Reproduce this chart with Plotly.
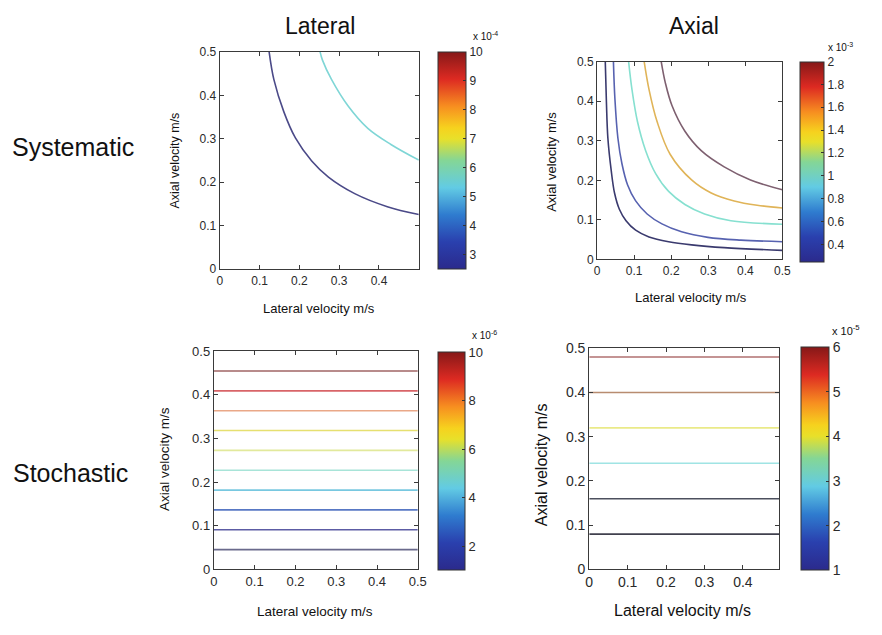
import plotly.graph_objects as go

W, H = 882, 635
FONT = "Arial, 'Liberation Sans', sans-serif"
INK = "#2a2a2a"

# ---------------- data ----------------
lateral_span = [0.0, 0.5]          # lateral velocity grid extent, m/s

# Systematic error, lateral component: iso-lines (values x1e-4)
sys_lat_levels = [2.5, 5.0]
sys_lat_x = [
    [0.124, 0.136, 0.161, 0.190, 0.231, 0.273, 0.339, 0.421, 0.500],
    [0.252, 0.258, 0.281, 0.322, 0.372, 0.430, 0.500],
]
sys_lat_y = [
    [0.500, 0.436, 0.362, 0.302, 0.249, 0.212, 0.174, 0.144, 0.126],
    [0.500, 0.481, 0.436, 0.376, 0.324, 0.287, 0.251],
]
sys_lat_clim = [2.5, 10.0]
sys_lat_cticks = [3, 4, 5, 6, 7, 8, 9, 10]

# Systematic error, axial component: iso-lines (values x1e-3)
sys_ax_levels = [0.25, 0.5, 1.0, 1.5, 2.0]
sys_ax_x = [
    [0.022, 0.025, 0.029, 0.038, 0.047, 0.060, 0.078, 0.104, 0.140,
     0.193, 0.255, 0.343, 0.500],
    [0.044, 0.048, 0.056, 0.067, 0.082, 0.104, 0.135, 0.175, 0.228,
     0.299, 0.388, 0.500],
    [0.085, 0.094, 0.109, 0.131, 0.158, 0.193, 0.237, 0.290, 0.361, 0.500],
    [0.127, 0.140, 0.162, 0.197, 0.255, 0.308, 0.370, 0.432, 0.500],
    [0.173, 0.184, 0.202, 0.237, 0.281, 0.343, 0.414, 0.500],
]
sys_ax_y = [
    [0.500, 0.400, 0.307, 0.225, 0.168, 0.127, 0.098, 0.074, 0.057,
     0.045, 0.037, 0.030, 0.023],
    [0.500, 0.406, 0.307, 0.242, 0.189, 0.148, 0.115, 0.090, 0.070,
     0.056, 0.049, 0.045],
    [0.500, 0.430, 0.348, 0.275, 0.217, 0.172, 0.139, 0.115, 0.098, 0.089],
    [0.500, 0.430, 0.348, 0.266, 0.201, 0.168, 0.148, 0.137, 0.130],
    [0.500, 0.447, 0.389, 0.324, 0.275, 0.234, 0.201, 0.176],
]
sys_ax_clim = [0.25, 2.0]
sys_ax_cticks = [0.4, 0.6, 0.8, 1.0, 1.2, 1.4, 1.6, 1.8, 2.0]
sys_ax_ctext = ["0.4", "0.6", "0.8", "1", "1.2", "1.4", "1.6", "1.8", "2"]

# Stochastic error, lateral component: level (x1e-6) and axial velocity of each iso-line
sto_lat_levels = [1, 2, 3, 4, 5, 6, 7, 8, 9, 10]
sto_lat_axial = [0.0455, 0.0909, 0.1364, 0.1818, 0.2273, 0.2727, 0.3182, 0.3636, 0.4091, 0.4545]
sto_lat_clim = [1, 10]
sto_lat_cticks = [2, 4, 6, 8, 10]

# Stochastic error, axial component: level (x1e-5) and axial velocity of each iso-line
sto_ax_levels = [1, 2, 3, 4, 5, 6]
sto_ax_axial = [0.08, 0.16, 0.24, 0.32, 0.40, 0.48]
sto_ax_span = [0.0, 0.495]
sto_ax_clim = [1, 6]
sto_ax_cticks = [1, 2, 3, 4, 5, 6]

# ---------------- styling ----------------
jet = [
    [0.000, "#2b2a8c"], [0.125, "#2a40ae"], [0.250, "#2f7ccf"],
    [0.375, "#62cbe4"], [0.500, "#84d696"], [0.600, "#e8e02a"],
    [0.650, "#f6d21e"], [0.750, "#f78e20"], [0.875, "#dd2a22"],
    [1.000, "#861818"],
]
sys_lat_colors = ["#4b4a88", "#7fd6d6"]
sys_ax_colors = ["#3a3a6e", "#5762b0", "#86e0d0", "#e0b458", "#7e6070"]
sto_lat_colors = ["#6a6a8c", "#5c5ca4", "#5878c4", "#78c8e0", "#a8e4d8",
                  "#e2e99c", "#e6e070", "#eaa888", "#d86468", "#a06464"]
sto_ax_colors = ["#40404e", "#4c505e", "#a0e4e4", "#eaea88", "#b88c70", "#b07070"]


def px(x):
    return x / W


def py(y):
    return 1 - y / H


# panel frames in pixels: (left, right, top, bottom)
frames = {
    1: (219, 421, 45, 268),
    2: (602, 790, 55, 258),
    3: (213, 420, 352, 576),
    4: (594, 787, 349, 576),
}
# colour bars in pixels: (left, right, top, bottom)
bars = {
    1: (440, 468, 45, 268),
    2: (808, 832, 55, 260),
    3: (440, 467, 353, 577),
    4: (809, 837, 348, 577),
}

fig = go.Figure()


def axis_names(i):
    return ("x" if i == 1 else f"x{i}"), ("y" if i == 1 else f"y{i}")


def add_lines(i, xs, ys, colors, shape="spline"):
    xa, ya = axis_names(i)
    for x, y, c in zip(xs, ys, colors):
        fig.add_trace(go.Scatter(
            x=x, y=y, mode="lines", xaxis=xa, yaxis=ya,
            line=dict(color=c, width=1.6, shape=shape, smoothing=1.0),
            hoverinfo="skip", showlegend=False,
        ))


def add_colorbar(i, clim, ticks, ticktext, fsize):
    xa, ya = axis_names(i)
    l, r, t, b = bars[i]
    fig.add_trace(go.Scatter(
        x=[None], y=[None], mode="markers", xaxis=xa, yaxis=ya,
        hoverinfo="skip", showlegend=False,
        marker=dict(
            color=[clim[0]], cmin=clim[0], cmax=clim[1], colorscale=jet,
            showscale=True,
            colorbar=dict(
                x=px(l), xanchor="left", xpad=0, ypad=0,
                y=py((t + b) / 2), yanchor="middle",
                len=(b - t) / H, lenmode="fraction",
                thickness=r - l, thicknessmode="pixels",
                outlinewidth=1, outlinecolor="#333",
                tickvals=ticks, ticktext=ticktext,
                ticks="inside", ticklen=3, tickcolor="#333",
                tickfont=dict(family=FONT, size=fsize, color=INK),
            ),
        ),
    ))


# systematic, lateral
add_lines(1, sys_lat_x, sys_lat_y, sys_lat_colors)
add_colorbar(1, sys_lat_clim, sys_lat_cticks, [str(v) for v in sys_lat_cticks], 12)

# systematic, axial
add_lines(2, sys_ax_x, sys_ax_y, sys_ax_colors)
add_colorbar(2, sys_ax_clim, sys_ax_cticks, sys_ax_ctext, 12)

# stochastic, lateral
add_lines(3, [lateral_span] * len(sto_lat_axial),
          [[v, v] for v in sto_lat_axial], sto_lat_colors, "linear")
add_colorbar(3, sto_lat_clim, sto_lat_cticks, [str(v) for v in sto_lat_cticks], 13)

# stochastic, axial
add_lines(4, [sto_ax_span] * len(sto_ax_axial),
          [[v, v] for v in sto_ax_axial], sto_ax_colors, "linear")
add_colorbar(4, sto_ax_clim, sto_ax_cticks, [str(v) for v in sto_ax_cticks], 14)


def axis_style(fsize, rng, ticks):
    return dict(
        range=rng, tickvals=ticks, ticktext=[f"{v:g}" for v in ticks],
        showline=True, linecolor="#3a3a3a", linewidth=1.2, mirror="allticks",
        ticks="inside", ticklen=4, tickcolor="#3a3a3a",
        showgrid=False, zeroline=False, fixedrange=True,
        tickfont=dict(family=FONT, size=fsize, color=INK),
    )


tick5 = [0, 0.1, 0.2, 0.3, 0.4, 0.5]
tick4 = [0, 0.1, 0.2, 0.3, 0.4]
xspec = {1: (12, [0, 0.5], tick4), 2: (12, [0, 0.5], tick5),
         3: (13, [0, 0.5], tick5), 4: (14, [0, 0.495], tick4)}
yspec = {1: 12, 2: 12, 3: 13, 4: 14}

layout = dict(
    width=W, height=H, margin=dict(l=0, r=0, t=0, b=0),
    paper_bgcolor="white", plot_bgcolor="white",
    showlegend=False, font=dict(family=FONT, color=INK),
)
for i in range(1, 5):
    l, r, t, b = frames[i]
    xa, ya = axis_names(i)
    xkey = "xaxis" if i == 1 else f"xaxis{i}"
    ykey = "yaxis" if i == 1 else f"yaxis{i}"
    fs, rng, tv = xspec[i]
    xd = axis_style(fs, rng, tv)
    xd.update(domain=[px(l), px(r)], anchor=ya)
    yd = axis_style(yspec[i], [0, 0.5], tick5)
    yd.update(domain=[py(b), py(t)], anchor=xa)
    layout[xkey] = xd
    layout[ykey] = yd

fig.update_layout(**layout)


def label(text, x, y, size, angle=0, xanchor="center", yanchor="middle"):
    fig.add_annotation(
        text=text, x=px(x), y=py(y), xref="paper", yref="paper",
        showarrow=False, textangle=angle, xanchor=xanchor, yanchor=yanchor,
        font=dict(family=FONT, size=size, color="#111"),
    )


# column and row headings
label("Lateral", 321, 18, 23)
label("Axial", 700, 18, 23)
label("Systematic", 70, 143, 25)
label("Stochastic", 68, 477, 25)

# axis titles
label("Lateral velocity m/s", 320, 308, 13)
label("Axial velocity m/s", 174, 156, 12.5, angle=-90)
label("Lateral velocity m/s", 697, 297, 13)
label("Axial velocity m/s", 555, 158, 13, angle=-90)
label("Lateral velocity m/s", 316, 619, 13.5)
label("Axial velocity m/s", 163, 463, 13.5, angle=-90)
label("Lateral velocity m/s", 689, 618, 16)
label("Axial velocity m/s", 545, 468, 16, angle=-90)

# colour-bar scale factors
label("x 10<sup>-4</sup>", 474, 37, 10, xanchor="left", yanchor="bottom")
label("x 10<sup>-3</sup>", 834, 48, 10, xanchor="left", yanchor="bottom")
label("x 10<sup>-6</sup>", 473, 344, 10, xanchor="left", yanchor="bottom")
label("x 10<sup>-5</sup>", 838, 340, 11, xanchor="left", yanchor="bottom")

fig.write_html("out.html")
